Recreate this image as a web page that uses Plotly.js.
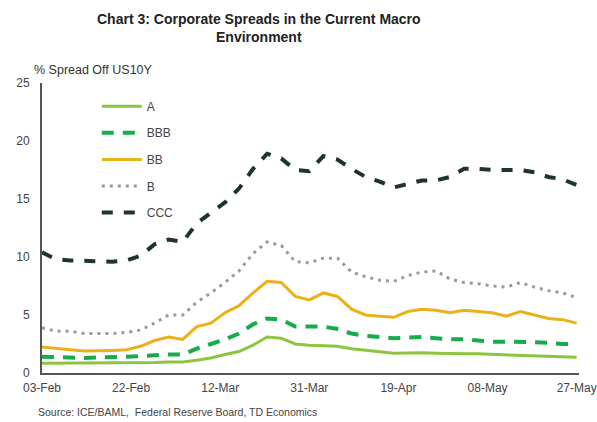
<!DOCTYPE html>
<html>
<head>
<meta charset="utf-8">
<script src="https://cdn.plot.ly/plotly-3.0.1.min.js"></script>
<style>html,body{margin:0;padding:0;background:#fff}#chart{width:597px;height:422px}</style>
</head>
<body>
<div id="chart"></div>
<script>
// Dates every 3 days from 03-Feb-2020 to 27-May-2020
const dates = ["2020-02-03","2020-02-06","2020-02-09","2020-02-12","2020-02-15","2020-02-18","2020-02-21","2020-02-24","2020-02-27","2020-03-01",
"2020-03-04","2020-03-07","2020-03-10","2020-03-13","2020-03-16","2020-03-19","2020-03-22","2020-03-25","2020-03-28","2020-03-31",
"2020-04-03","2020-04-06","2020-04-09","2020-04-12","2020-04-15","2020-04-18","2020-04-21","2020-04-24","2020-04-27","2020-04-30",
"2020-05-03","2020-05-06","2020-05-09","2020-05-12","2020-05-15","2020-05-18","2020-05-21","2020-05-24","2020-05-27"];

const seriesA   = [0.85,0.85,0.85,0.85,0.85,0.85,0.85,0.88,0.9,0.95,0.95,1.1,1.3,1.6,1.85,2.4,3.1,3.0,2.5,2.4,2.35,2.3,2.1,1.95,1.8,1.7,1.72,1.75,1.7,1.65,1.65,1.65,1.6,1.6,1.55,1.45,1.4,1.4,1.35];
const seriesBBB = [1.4,1.35,1.3,1.3,1.35,1.35,1.4,1.45,1.55,1.6,1.6,2.1,2.5,2.9,3.4,4.2,4.7,4.6,4.0,4.0,4.0,3.8,3.4,3.2,3.1,3.0,3.05,3.1,3.0,2.9,2.9,2.8,2.7,2.7,2.7,2.65,2.6,2.5,2.5];
const seriesBB  = [2.25,2.1,2.0,1.9,1.9,1.95,2.0,2.3,2.8,3.1,2.9,4.0,4.3,5.2,5.8,6.9,7.9,7.8,6.6,6.3,6.9,6.6,5.5,5.0,4.9,4.8,5.3,5.5,5.4,5.2,5.4,5.3,5.2,4.9,5.3,5.0,4.7,4.6,4.3];
const seriesB   = [3.9,3.6,3.6,3.4,3.4,3.4,3.5,3.7,4.3,5.0,5.0,6.1,6.9,7.8,8.8,10.3,11.3,11.0,9.6,9.5,9.9,9.9,8.7,8.3,8.0,7.9,8.4,8.7,8.8,8.1,7.8,7.7,7.5,7.4,7.8,7.4,7.1,6.9,6.5];
const seriesCCC = [10.4,9.8,9.7,9.65,9.6,9.6,9.7,10.1,11.1,11.5,11.3,12.9,13.8,14.7,15.9,17.6,18.9,18.5,17.5,17.4,18.7,18.4,17.6,16.9,16.5,16.0,16.3,16.6,16.6,16.9,17.6,17.6,17.5,17.5,17.5,17.3,16.9,16.7,16.2];

const seriesNames = ["A","BBB","BB","B","CCC"];
const xTickVals = ["2020-02-03","2020-02-22","2020-03-12","2020-03-31","2020-04-19","2020-05-08","2020-05-27"];
const xTickText = ["03-Feb","22-Feb","12-Mar","31-Mar","19-Apr","08-May","27-May"];
const yTickVals = [0,5,10,15,20,25];

const font = "Liberation Sans, Arial, sans-serif";
const styles = [
  {color:"#8cc63e", width:3, dash:"solid"},
  {color:"#17ab4a", width:4, dash:"12px,9px"},
  {color:"#ebb119", width:3, dash:"solid"},
  {color:"#9a9a9a", width:3, dash:"3px,5px"},
  {color:"#1f3529", width:4, dash:"11px,11px"}
];
const allSeries = [seriesA, seriesBBB, seriesBB, seriesB, seriesCCC];

const traces = allSeries.map((ys, i) => ({
  x: dates, y: ys, type: "scatter", mode: "lines",
  name: seriesNames[i], legendgroup: seriesNames[i],
  line: {color: styles[i].color, width: styles[i].width, dash: styles[i].dash}
}));

const layout = {
  width: 597, height: 422,
  paper_bgcolor: "#fff", plot_bgcolor: "#fff",
  margin: {l: 42, r: 18, t: 83, b: 49},
  font: {family: font, size: 12, color: "#444"},
  xaxis: {
    type: "date",
    range: ["2020-02-03", "2020-05-27 12:00"],
    tickvals: xTickVals, ticktext: xTickText,
    showgrid: false, zeroline: false,
    showline: true, linecolor: "#555", linewidth: 1.5,
    ticks: "", ticklabelstandoff: 3,
    tickfont: {family: font, size: 12, color: "#444"}
  },
  yaxis: {
    range: [0, 25], tickvals: yTickVals,
    showgrid: false, zeroline: false,
    showline: true, linecolor: "#555", linewidth: 2,
    ticks: "", ticklabelstandoff: 8,
    tickfont: {family: font, size: 12, color: "#444"}
  },
  showlegend: true,
  legend: {
    x: 0.102, y: 0.97, xanchor: "left", yanchor: "top",
    bgcolor: "rgba(0,0,0,0)", font: {family: font, size: 12, color: "#444"},
    tracegroupgap: 7.6, itemwidth: 40
  },
  annotations: [
    {text: "<b>Chart 3: Corporate Spreads in the Current Macro<br>Environment</b>", xref: "paper", yref: "paper",
     x: (259-42)/537, y: 1 + (83-9)/290, xanchor: "center", yanchor: "top", align: "center", showarrow: false,
     font: {family: font, size: 14, color: "#222"}},
    {text: "% Spread Off US10Y", xref: "paper", yref: "paper",
     x: -10/537, y: 1 + 13/290, xanchor: "left", yanchor: "middle", showarrow: false,
     font: {family: font, size: 12.5, color: "#333"}},
    {text: "Source: ICE/BAML,  Federal Reserve Board, TD Economics", xref: "paper", yref: "paper",
     x: -6/537, y: -39/290, xanchor: "left", yanchor: "middle", showarrow: false,
     font: {family: font, size: 10.5, color: "#444"}}
  ]
};

Plotly.newPlot("chart", traces, layout, {displayModeBar: false, staticPlot: true});
</script>
</body>
</html>
